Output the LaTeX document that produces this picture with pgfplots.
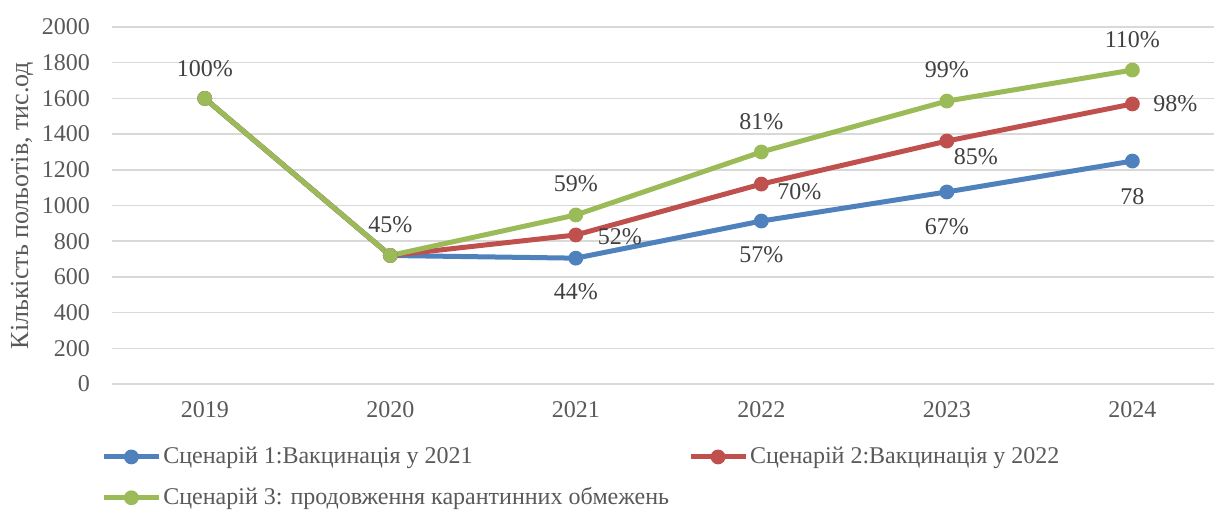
\documentclass[border=0pt]{standalone}
\usepackage{pgfplots}
\pgfplotsset{compat=1.18}
\usepackage{fontspec}
\setmainfont{Liberation Serif}
\definecolor{cBlue}{HTML}{4F81BD}
\definecolor{cRed}{HTML}{C0504D}
\definecolor{cGreen}{HTML}{9BBB59}
\definecolor{cGrid}{HTML}{D9D9D9}
\definecolor{cText}{HTML}{595959}
\definecolor{cLab}{HTML}{404040}
\begin{document}
\begin{tikzpicture}
\useasboundingbox (0,0) rectangle (607pt,255pt);
\begin{axis}[
  at={(56pt,63pt)}, anchor=south west,
  width=551pt, height=178.5pt, scale only axis,
  xmin=-0.5, xmax=5.44, ymin=0, ymax=2000,
  xtick={0,1,2,3,4,5}, xticklabels={2019,2020,2021,2022,2023,2024},
  ytick={0,200,...,2000},
  ymajorgrids, grid style={cGrid, line width=0.75pt},
  axis line style={draw=none}, major tick length=0pt,
  ticklabel style={font=\fontsize{12}{14}\selectfont, text=cText},
  /pgf/number format/assume math mode=true,
  /pgf/number format/1000 sep={},
  yticklabel style={xshift=-7.5pt},
  xticklabel style={yshift=-5pt},
  ylabel={Кількість польотів, тис.од},
  ylabel style={at={(axis description cs:-0.0817,0.5)}, anchor=center, font=\fontsize{13}{15}\selectfont, text=cText},
  legend columns=2,
  legend cell align=left,
  legend style={at={(axis description cs:-0.010,-0.262)}, anchor=west, draw=none, fill=none,
    font=\fontsize{12}{14}\selectfont, text=cText, inner sep=0pt,
    /tikz/column 2/.style={column sep=8.5pt}, row sep=8.5pt, nodes={inner sep=1pt}},
  legend image code/.code={\draw[#1, mark repeat=2, mark phase=2] plot coordinates {(0pt,0pt) (13.75pt,0pt) (27.5pt,0pt)};},
  every axis plot/.append style={line width=2.5pt, mark=*, mark size=3.3pt},
]
\addplot[cBlue, mark options={fill=cBlue, draw=cBlue, line width=0.8pt}] coordinates {(0,1600)(1,720)(2,705)(3,913)(4,1076)(5,1249)};
\addlegendentry{Сценарій 1:Вакцинація у 2021}
\addplot[cRed, mark options={fill=cRed, draw=cRed, line width=0.8pt}] coordinates {(0,1600)(1,720)(2,835)(3,1120)(4,1361)(5,1569)};
\addlegendentry{Сценарій 2:Вакцинація у 2022}
\addplot[cGreen, mark options={fill=cGreen, draw=cGreen, line width=0.8pt}] coordinates {(0,1600)(1,720)(2,947)(3,1300)(4,1585)(5,1759)};
\addlegendentry{Сценарій 3: продовження карантинних обмежень}
\addplot[forget plot, only marks, mark=none, point meta=explicit symbolic,
  visualization depends on={\thisrow{dx}\as\dx},
  visualization depends on={\thisrow{dy}\as\dy},
  nodes near coords,
  every node near coord/.append style={anchor=center, xshift=\dx pt, yshift=\dy pt,
    font=\fontsize{12}{14}\selectfont, text=cLab}]
  table[x=x, y=y, meta=lab] {
x y dx dy lab
0 1600 0 15 100\%
1 720 0 15.5 45\%
2 705 0 -17 44\%
2 835 22 -1 52\%
2 947 0 15.5 59\%
3 913 0 -17 57\%
3 1120 19 -4 70\%
3 1300 0 15 81\%
4 1076 0 -17.5 67\%
4 1361 14.5 -8 85\%
4 1585 0 15.5 99\%
5 1249 0 -18 78
5 1569 21.5 0 98\%
5 1759 0 15 110\%
};
\end{axis}
\end{tikzpicture}
\end{document}
